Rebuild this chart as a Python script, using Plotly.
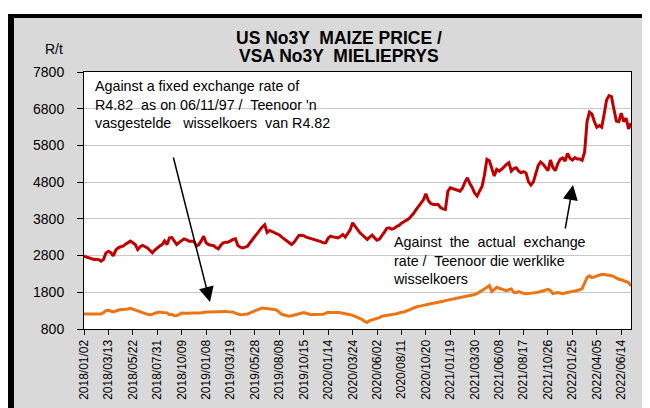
import plotly.graph_objects as go

tick_labels = ["2018/01/02", "2018/03/13", "2018/05/22", "2018/07/31", "2018/10/09",
               "2019/01/08", "2019/03/19", "2019/05/28", "2019/08/08", "2019/10/15",
               "2020/01/14", "2020/03/24", "2020/06/02", "2020/08/11", "2020/10/20",
               "2021/01/19", "2021/03/30", "2021/06/08", "2021/08/17", "2021/10/26",
               "2022/01/25", "2022/04/05", "2022/06/14"]

# Against the actual exchange rate (weekly, R/t)
actual_rate = [
    2784, 2760, 2738, 2720, 2692, 2700, 2690, 2650, 2700, 2874,
    2920, 2880, 2790, 2950, 3010, 3040, 3056, 3110, 3150, 3193,
    3150, 3101, 2965, 3040, 3074, 3040, 3010, 2940, 2874, 2950,
    3010, 3060, 3101, 3200, 3100, 3283, 3290, 3180, 3101, 3160,
    3210, 3256, 3230, 3193, 3193, 3193, 3056, 3100, 3200, 3329,
    3150, 3101, 3080, 3074, 3020, 2983, 3080, 3147, 3160, 3165,
    3200, 3240, 3256, 3074, 3030, 3010, 3030, 3056, 3150, 3238,
    3330, 3400, 3480, 3580, 3640, 3430, 3483, 3450, 3420, 3390,
    3360, 3300, 3250, 3210, 3150, 3101, 3160, 3260, 3347, 3350,
    3340, 3300, 3280, 3250, 3238, 3220, 3210, 3180, 3147, 3150,
    3280, 3329, 3310, 3300, 3283, 3320, 3374, 3301, 3400, 3500,
    3693, 3600, 3480, 3420, 3360, 3300, 3240, 3300, 3356, 3283,
    3220, 3250, 3330, 3440, 3540, 3556, 3520, 3540, 3590, 3620,
    3680, 3720, 3770, 3800, 3880, 3950, 4050, 4150, 4250, 4320,
    4480, 4300, 4220, 4193, 4190, 4193, 4110, 4070, 4057, 4550,
    4647, 4630, 4602, 4580, 4556, 4640, 4800, 4920, 4760, 4650,
    4500, 4420, 4560, 4680, 5000, 5420, 5380, 5200, 4965, 5148,
    5102, 5150, 5230, 5284, 5329, 5102, 5170, 5193, 5100, 5057,
    5084, 5050, 4812, 4720, 4800, 5000, 5257, 5348, 5290, 5200,
    5111, 5402, 5200, 5111, 5300, 5420, 5457, 5375, 5584, 5450,
    5402, 5466, 5430, 5430, 5393, 5620, 6449, 6704, 6650, 6450,
    6294, 6340, 6294, 6648, 7040, 7158, 7130, 6784, 6466, 6449,
    6676, 6449, 6540, 6249, 6412]

# Against a fixed exchange rate of R4.82 (weekly, R/t)
fixed_rate = [
    1209, 1209, 1209, 1210, 1209, 1209, 1212, 1209, 1250, 1300,
    1310, 1280, 1264, 1290, 1320, 1328, 1330, 1328, 1345, 1364,
    1340, 1309, 1290, 1270, 1255, 1230, 1200, 1191, 1200, 1230,
    1255, 1264, 1250, 1237, 1240, 1191, 1200, 1160, 1165, 1200,
    1237, 1230, 1225, 1230, 1237, 1230, 1237, 1237, 1240, 1255,
    1264, 1260, 1264, 1262, 1270, 1280, 1270, 1291, 1280, 1270,
    1275, 1264, 1230, 1200, 1191, 1195, 1205, 1209, 1240, 1270,
    1309, 1330, 1350, 1373, 1365, 1355, 1360, 1346, 1330, 1309,
    1260, 1200, 1180, 1160, 1146, 1160, 1180, 1200, 1220, 1240,
    1250, 1230, 1210, 1191, 1195, 1200, 1191, 1195, 1200, 1230,
    1255, 1250, 1255, 1260, 1250, 1240, 1230, 1209, 1205, 1190,
    1170, 1146, 1120, 1090, 1055, 1000, 982, 1028, 1045, 1060,
    1080, 1110, 1146, 1160, 1180, 1191, 1200, 1205, 1215, 1240,
    1255, 1265, 1285, 1300, 1340, 1373, 1400, 1419, 1430, 1450,
    1464, 1480, 1490, 1500, 1510, 1528, 1540, 1555, 1573, 1590,
    1600, 1620, 1637, 1650, 1660, 1670, 1682, 1690, 1700, 1710,
    1740, 1770, 1800, 1850, 1891, 1950, 1982, 1819, 1880, 1937,
    1910, 1891, 1870, 1846, 1870, 1891, 1800, 1791, 1819, 1790,
    1770, 1760, 1764, 1770, 1780, 1791, 1800, 1820, 1837, 1860,
    1882, 1850, 1764, 1780, 1791, 1780, 1764, 1780, 1800, 1819,
    1825, 1837, 1850, 1870, 1900, 2064, 2200, 2246, 2200, 2220,
    2246, 2270, 2291, 2285, 2280, 2273, 2250, 2228, 2190, 2155,
    2140, 2120, 2100, 2064, 1973]

y_ticks = [800, 1800, 2800, 3800, 4800, 5800, 6800, 7800]

FONT = "Liberation Sans, Arial, sans-serif"
W, H = 650, 408
ML, MR, MT, MB = 76, 27, 64, 87
PW, PH = W - ML - MR, H - MT - MB


def px(x):
    return (x - ML) / PW


def py(y):
    return (H - MB - y) / PH


idx = list(range(len(actual_rate)))
tick_pos = list(range(0, 10 * len(tick_labels), 10))

fig = go.Figure()
fig.add_trace(go.Scatter(x=idx, y=actual_rate, mode="lines",
                         line=dict(color="#C00000", width=3), showlegend=False))
fig.add_trace(go.Scatter(x=idx, y=fixed_rate, mode="lines",
                         line=dict(color="#EB7515", width=3), showlegend=False))

shapes = [
    dict(type="rect", xref="paper", yref="paper", x0=px(-10), x1=px(700),
         y0=py(6), y1=py(-10), fillcolor="white", line_width=0, layer="below"),
    dict(type="rect", xref="paper", yref="paper", x0=px(-10), x1=px(700),
         y0=py(10), y1=py(6), fillcolor="black", line_width=0, layer="below"),
    dict(type="rect", xref="paper", yref="paper", x0=px(-10), x1=px(6),
         y0=py(500), y1=py(6), fillcolor="black", line_width=0, layer="below"),
    # white boxes behind the two notes (below the lines, above gridlines)
    dict(type="rect", xref="paper", yref="paper", x0=px(79), x1=px(348),
         y0=py(124), y1=py(66), fillcolor="white", line_width=0, layer="between"),
    dict(type="rect", xref="paper", yref="paper", x0=px(383), x1=px(582),
         y0=py(276), y1=py(226), fillcolor="white", line_width=0, layer="between"),
]

annotations = [
    dict(text="<b>US No3Y  MAIZE PRICE /</b>", xref="paper", yref="paper",
         x=px(331), y=py(30), xanchor="center", yanchor="middle", showarrow=False,
         font=dict(family=FONT, size=17.5, color="black")),
    dict(text="<b>VSA No3Y  MIELIEPRYS</b>", xref="paper", yref="paper",
         x=px(331), y=py(48), xanchor="center", yanchor="middle", showarrow=False,
         font=dict(family=FONT, size=17.5, color="black")),
    dict(text="R/t", xref="paper", yref="paper", x=px(46), y=py(41),
         xanchor="center", yanchor="middle", showarrow=False,
         font=dict(family=FONT, size=14, color="black")),
    dict(text="Against a fixed exchange rate of<br>R4.82  as on 06/11/97 /  Teenoor 'n<br>vasgestelde   wisselkoers  van R4.82",
         xref="paper", yref="paper", x=px(85), y=py(68), xanchor="left", yanchor="top",
         align="left", showarrow=False, font=dict(family=FONT, size=14.3, color="black")),
    dict(text="Against  the  actual  exchange<br>rate /  Teenoor die werklike<br>wisselkoers",
         xref="paper", yref="paper", x=px(383), y=py(224), xanchor="left", yanchor="top",
         align="left", showarrow=False,
         font=dict(family=FONT, size=14.3, color="black")),
    dict(text="", xref="paper", yref="paper", x=px(202), y=py(294),
         ax=165 - 202, ay=148 - 294, showarrow=True, arrowhead=2, arrowsize=2,
         arrowwidth=1.5, arrowcolor="black"),
    dict(text="", xref="paper", yref="paper", x=px(565), y=py(177),
         ax=557 - 565, ay=222 - 177, showarrow=True, arrowhead=2, arrowsize=2,
         arrowwidth=1.5, arrowcolor="black"),
]

fig.update_layout(
    width=W, height=H,
    margin=dict(l=ML, r=MR, t=MT, b=MB, pad=0),
    paper_bgcolor="#D9D9D9", plot_bgcolor="white",
    font=dict(family=FONT, color="black"),
    shapes=shapes, annotations=annotations, showlegend=False,
)
fig.update_xaxes(range=[0, len(actual_rate) - 1], tickmode="array", tickvals=tick_pos,
                 ticktext=tick_labels, tickangle=-90, tickfont=dict(size=12, family=FONT),
                 ticks="outside", ticklen=5, tickcolor="black", showgrid=False,
                 showline=True, linecolor="black", linewidth=1, mirror=True, zeroline=False)
fig.update_yaxes(range=[800, 7800], tickmode="array", tickvals=y_ticks,
                 tickfont=dict(size=14, family=FONT), ticks="outside", ticklen=6,
                 tickcolor="black", showgrid=True, gridcolor="#C8C8C8", gridwidth=1,
                 showline=True, linecolor="black", linewidth=1, mirror=True,
                 zeroline=False, ticklabelstandoff=10)

fig.write_html("out.html")
